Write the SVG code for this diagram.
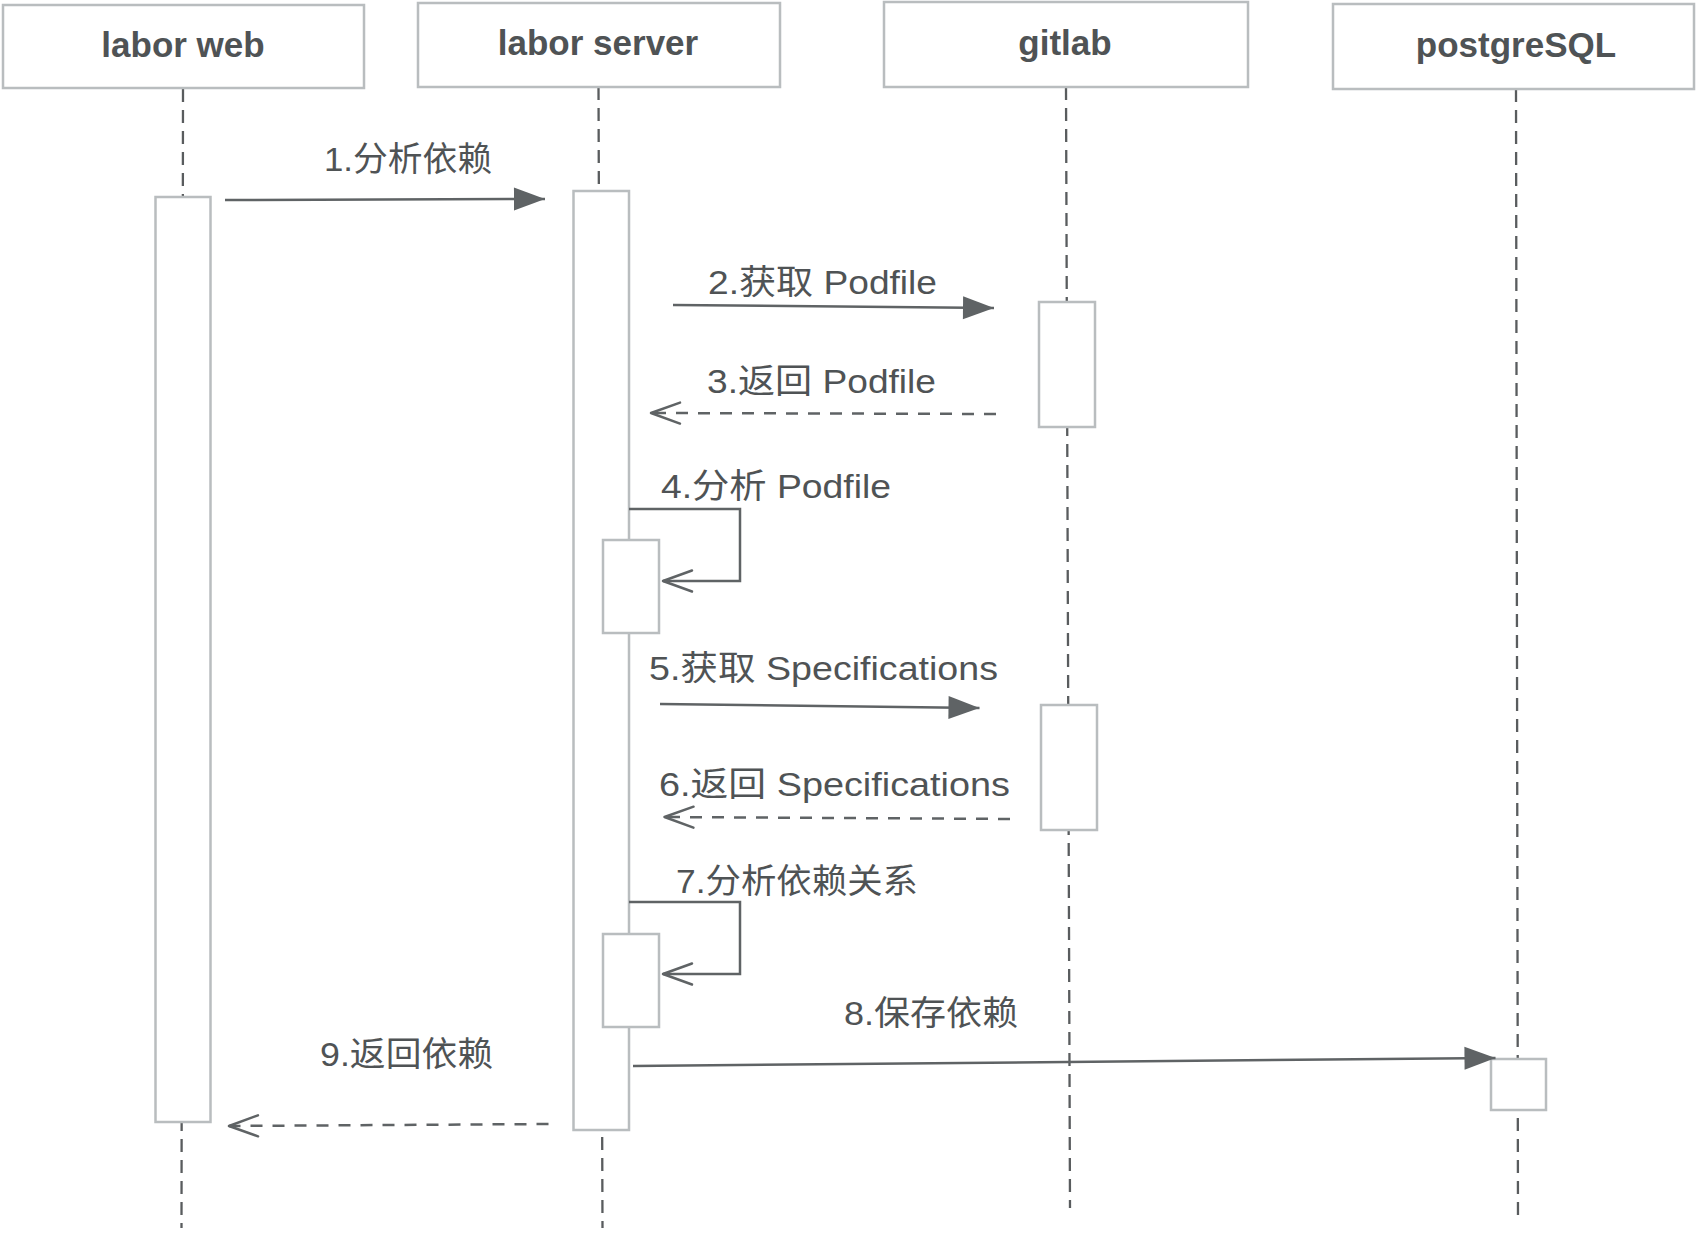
<svg xmlns="http://www.w3.org/2000/svg" width="1697" height="1233" viewBox="0 0 1697 1233">
<style>
.hdr{fill:#fff;stroke:#b9bdbf;stroke-width:2.5}
.hdrt{font-family:"Liberation Sans","Noto Sans CJK SC",sans-serif;font-weight:bold;font-size:35px;fill:#4f5355;text-anchor:middle}
.life{stroke:#595c5e;stroke-width:2.3;stroke-dasharray:13 8;fill:none}
.act{fill:#fff;stroke:#b9bdbf;stroke-width:2.5}
.msg{stroke:#5f6365;stroke-width:2.5;fill:none}
.dash{stroke-dasharray:12 10}
.lbl{font-family:"Liberation Sans","Noto Sans CJK SC",sans-serif;font-size:34px;fill:#4f5355}
</style>
<defs>
<marker id="solid" markerUnits="userSpaceOnUse" markerWidth="32" markerHeight="24" refX="31" refY="11.5" orient="auto" overflow="visible">
<path d="M0,0 L31,11.5 L0,23 z" fill="#5f6365"/>
</marker>
<marker id="open" markerUnits="userSpaceOnUse" markerWidth="32" markerHeight="24" refX="30" refY="11.5" orient="auto" overflow="visible">
<path d="M1,1 L30,11.5 L1,22" fill="none" stroke="#5f6365" stroke-width="2.5" stroke-dasharray="none" stroke-linecap="round" stroke-linejoin="round"/>
</marker>
</defs>
<rect width="1697" height="1233" fill="#fff"/>
<g id="lifelines">
<line class="life" x1="183" y1="89" x2="181.5" y2="1228"/>
<line class="life" x1="598.5" y1="87" x2="602.5" y2="1228"/>
<line class="life" x1="1066" y1="87" x2="1070" y2="1208"/>
<line class="life" x1="1516" y1="89" x2="1518" y2="1223"/>
</g>
<g id="labor-web">
<rect class="hdr" x="3" y="5" width="361" height="83"/>
<text class="hdrt" x="183" y="57">labor web</text>
<rect class="act" x="155.5" y="197" width="55" height="925"/>
</g>
<g id="labor-server">
<rect class="hdr" x="418" y="3" width="362" height="84"/>
<text class="hdrt" x="598" y="55">labor server</text>
<rect class="act" x="573.5" y="191" width="55.5" height="939"/>
<rect class="act" x="603" y="540" width="56" height="93"/>
<rect class="act" x="603" y="934" width="56" height="93"/>
</g>
<g id="gitlab">
<rect class="hdr" x="884" y="2" width="364" height="85"/>
<text class="hdrt" x="1065" y="55">gitlab</text>
<rect class="act" x="1039" y="302" width="56" height="125"/>
<rect class="act" x="1041" y="705" width="56" height="125"/>
</g>
<g id="postgresql">
<rect class="hdr" x="1333" y="4" width="361" height="85"/>
<text class="hdrt" x="1516" y="57">postgreSQL</text>
<rect class="act" x="1491" y="1059" width="55" height="51"/>
</g>
<g id="connectors">
<path class="msg" d="M225,200 L545,199" marker-end="url(#solid)"/>
<path class="msg" d="M673,305 L994,308" marker-end="url(#solid)"/>
<path class="msg dash" d="M996,414 L651,413" marker-end="url(#open)"/>
<path class="msg" d="M629,509 H740 V581 H663" marker-end="url(#open)"/>
<path class="msg" d="M660,704 L979.5,708" marker-end="url(#solid)"/>
<path class="msg dash" d="M1010,819 L664.5,817" marker-end="url(#open)"/>
<path class="msg" d="M629,902 H740 V974 H663" marker-end="url(#open)"/>
<path class="msg" d="M633,1066 L1495.5,1058" marker-end="url(#solid)"/>
<path class="msg dash" d="M548.5,1124 L229,1126" marker-end="url(#open)"/>
</g>
<g id="labels">
<text class="lbl" x="324" y="171" textLength="168" lengthAdjust="spacingAndGlyphs">1.分析依赖</text>
<text class="lbl" x="708" y="294" textLength="229" lengthAdjust="spacingAndGlyphs">2.获取 Podfile</text>
<text class="lbl" x="707" y="393" textLength="229" lengthAdjust="spacingAndGlyphs">3.返回 Podfile</text>
<text class="lbl" x="661" y="498" textLength="230" lengthAdjust="spacingAndGlyphs">4.分析 Podfile</text>
<text class="lbl" x="649" y="680" textLength="349" lengthAdjust="spacingAndGlyphs">5.获取 Specifications</text>
<text class="lbl" x="659" y="796" textLength="351" lengthAdjust="spacingAndGlyphs">6.返回 Specifications</text>
<text class="lbl" x="676" y="893" textLength="242" lengthAdjust="spacingAndGlyphs">7.分析依赖关系</text>
<text class="lbl" x="844" y="1025" textLength="174" lengthAdjust="spacingAndGlyphs">8.保存依赖</text>
<text class="lbl" x="320" y="1066" textLength="173" lengthAdjust="spacingAndGlyphs">9.返回依赖</text>
</g>
</svg>
